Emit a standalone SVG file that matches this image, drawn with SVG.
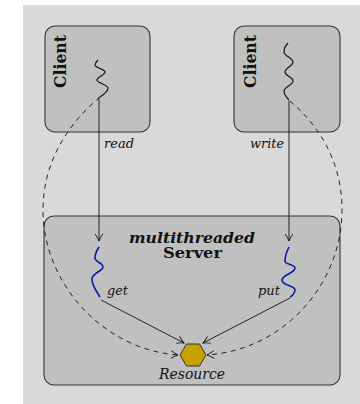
<svg xmlns="http://www.w3.org/2000/svg" width="360" height="404" viewBox="0 0 360 404">
<defs>
<style>
.box{fill:#c0c0c0;stroke:#333;stroke-width:1.1}
.sq{fill:none;stroke:#111;stroke-width:1.2}
.bsq{fill:none;stroke:#0a1aa8;stroke-width:1.6}
.ln{fill:none;stroke:#111;stroke-width:0.9;marker-end:url(#ah)}
.dash{fill:none;stroke:#111;stroke-width:0.9;stroke-dasharray:5 4.5;marker-end:url(#ah)}
.t{font-family:"DejaVu Serif","Liberation Serif",serif;fill:#111}
.it{font-style:italic;font-size:13px}
.bold{font-weight:bold}
</style>
<marker id="ah" markerUnits="userSpaceOnUse" markerWidth="20" markerHeight="20" viewBox="-10 -10 20 20" refX="0" refY="0" orient="auto" overflow="visible">
<path d="M-7,-3.8 Q-2.5,-1 0,0 Q-2.5,1 -7,3.8" fill="none" stroke="#111" stroke-width="0.9"/>
</marker>
</defs>
<rect x="23" y="5" width="337" height="399" fill="#d9d9d9"/>
<g id="server">
<rect class="box" x="44" y="216" width="296" height="169" rx="10"/>
<text class="t bold" x="192" y="243" text-anchor="middle" font-size="14" font-style="italic" textLength="126" lengthAdjust="spacingAndGlyphs">multithreaded</text>
<text class="t bold" x="192.5" y="258" text-anchor="middle" font-size="14" textLength="59" lengthAdjust="spacingAndGlyphs">Server</text>
<path class="bsq" d="M99,247 C97,250 95,254 95,258 C95,262 103,263 103,267 C103,271 92,273 92,279 C92,286 97,292 100,297"/>
<path class="bsq" d="M289,247 C287,251 285,256 285,261 C285,265 295,264 295,268 C295,273 282,275 282,280 C282,286 295,285 295,290 C295,293 292,296 290,297"/>
<text class="t it" x="107" y="295" textLength="21" lengthAdjust="spacingAndGlyphs">get</text>
<text class="t it" x="258" y="295" textLength="22" lengthAdjust="spacingAndGlyphs">put</text>
</g>
<g id="client-left">
<rect class="box" x="45" y="26" width="105" height="106" rx="10"/>
<text class="t bold" transform="translate(66,61.5) rotate(-90)" text-anchor="middle" font-size="16" textLength="53" lengthAdjust="spacingAndGlyphs">Client</text>
<path class="sq" d="M98,60 C96,62 95,63 95,65 C95,68 105,69 105,72 C105,75 97,77 97,80 C97,83 108,85 108,88 C108,91 103,95 100,97"/>
</g>
<g id="client-right">
<rect class="box" x="234" y="26" width="106" height="106" rx="10"/>
<text class="t bold" transform="translate(256,61.5) rotate(-90)" text-anchor="middle" font-size="16" textLength="53" lengthAdjust="spacingAndGlyphs">Client</text>
<path class="sq" d="M288,43 C286,45 284,48 284,52 C284,56 293,58 293,62 C293,66 285,68 285,72 C285,76 293,77 293,81 C293,85 284,87 284,91 C284,95 287,98 289,100"/>
</g>
<g id="resource">
<polygon points="180,355 186.5,344 199.5,344 206,355 199.5,366 186.5,366" fill="#c8a000" stroke="#333" stroke-width="1"/>
<text class="t" x="192" y="379" text-anchor="middle" font-size="14" font-style="italic" textLength="66" lengthAdjust="spacingAndGlyphs">Resource</text>
</g>
<g id="connectors">
<path class="ln" d="M99,97 L99,241"/>
<path class="ln" d="M289,101 L289,241"/>
<path class="ln" d="M101,300 L184,343"/>
<path class="ln" d="M290,298 L203,343"/>
<path class="dash" d="M100,97 C70,122 43,160 43,210 C43,285 105,350 178,355"/>
<path class="dash" d="M290,101 C318,125 342,160 342,210 C342,285 283,350 207,355"/>
<text class="t it" x="104" y="148" textLength="30" lengthAdjust="spacingAndGlyphs">read</text>
<text class="t it" x="250" y="148" textLength="34" lengthAdjust="spacingAndGlyphs">write</text>
</g>
</svg>
